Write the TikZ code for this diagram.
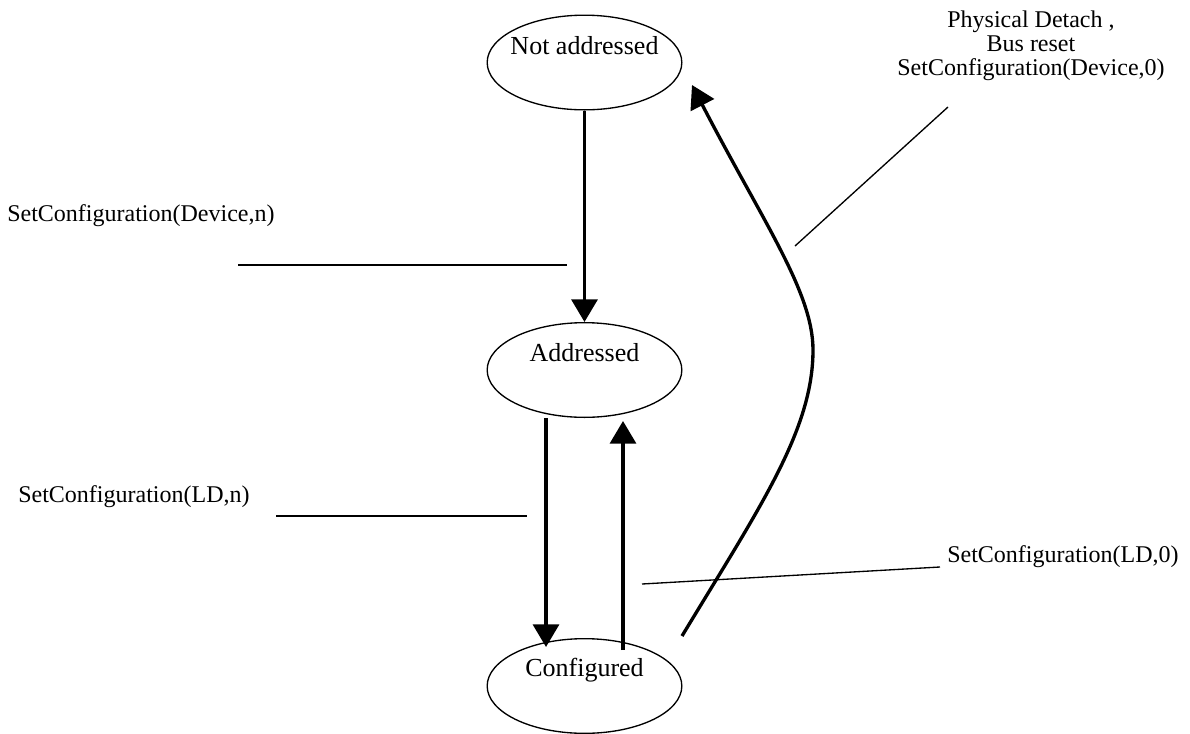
\documentclass[tikz,border=0pt]{standalone}
\usepackage{fontspec}
\setmainfont{Liberation Serif}
\usetikzlibrary{shapes.geometric}
\usetikzlibrary{arrows.meta}
\usetikzlibrary{calc}

\tikzset{
  state/.style={ellipse,draw,line width=1pt,minimum width=146pt,minimum height=71pt,inner sep=0pt},
  statetext/.style={font=\fontsize{19.5}{22}\selectfont,inner sep=0pt},
  trans/.style={line width=2.5pt,-{Triangle[length=17pt,width=19.5pt]}},
  lead/.style={line width=1pt},
  cond/.style={font=\fontsize{18}{18}\selectfont,inner sep=0pt}
}

\begin{document}
\begin{tikzpicture}[x=0.75pt,y=-0.75pt]
                    \useasboundingbox (0,0) rectangle (1190,733);
                    \node[state,label={[statetext,yshift=13pt]center:Not addressed}] (notaddr) at (584.5,62.5) {};
                    \node[state,label={[statetext,yshift=13pt]center:Addressed}] (addr) at (584.5,370) {};
                    \node[state,label={[statetext,yshift=12pt]center:Configured}] (cfg) at (584.5,686) {};
                    \draw[trans] (notaddr.south) -- (addr.north);
                    \draw[trans] ($(addr.south)+(-38.5,0)$) -- ($(cfg.north)+(-38.5,9)$);
                    \draw[trans] ($(cfg.north)+(38.5,12)$) -- ($(addr.south)+(38.5,3)$);
                    \draw[trans] ($(cfg.center)+(97.5,-50)$) .. controls (760,507) and (813,430) .. (813,350)
                        .. controls (813,292) and (763,222) .. ($(notaddr.center)+(107.5,22.5)$);
                    \node[cond,anchor=west] (devn) at (7,216) {SetConfiguration(Device,n)};
                    \node[cond,anchor=west] (ldn) at (18,497) {SetConfiguration(LD,n)};
                    \node[cond,anchor=west] (ld0) at (947,557) {SetConfiguration(LD,0)};
                    \node[cond,align=center] (dev0) at (1031,46) {Physical Detach ,\\Bus reset\\SetConfiguration(Device,0)};
                    \draw[lead] (238,265) -- (567,265);
                    \draw[lead] (276,516) -- (527,516);
                    \draw[lead] (642,584) -- (940,567);
                    \draw[lead] (795,246) -- (948,107);
                \end{tikzpicture}
\end{document}
